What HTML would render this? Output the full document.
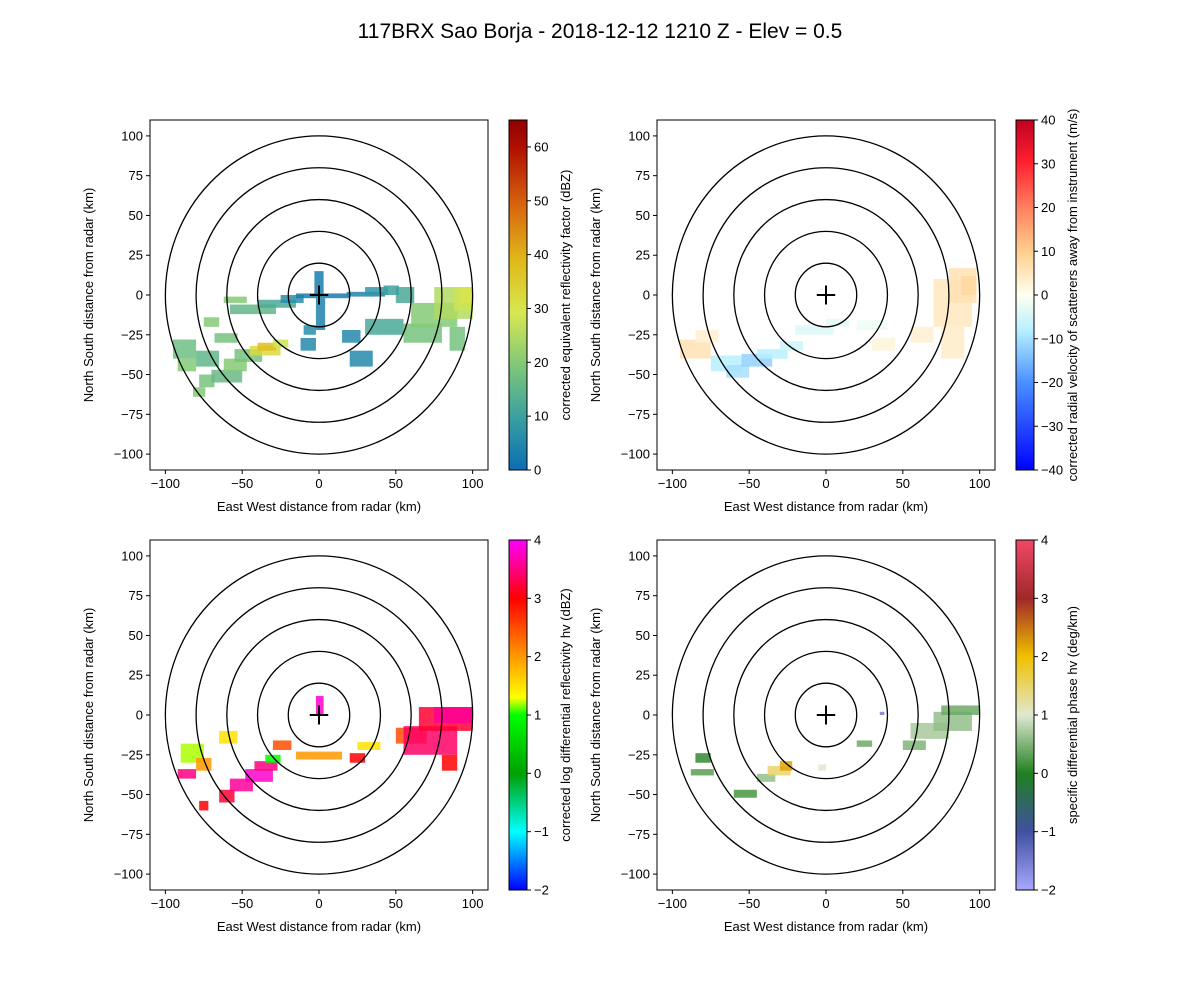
<!DOCTYPE html>
<html><head><meta charset="utf-8"><style>
body{margin:0;background:#fff;}
svg{font-family:"Liberation Sans","DejaVu Sans",sans-serif;}
</style></head><body>
<svg id="fig" width="1200" height="1000" viewBox="0 0 1200 1000">
<text x="600" y="38" font-size="21" text-anchor="middle">117BRX Sao Borja - 2018-12-12 1210 Z -  Elev = 0.5</text>
</svg>
<script>
// Echo patches: [x_km, y_km, w_km, h_km, value]
const reflPatches=[[-95,-40,15,12,17],[-92,-48,12,8,20],[-80,-45,15,10,15],[-78,-58,10,8,18],[-82,-64,8,6,20],[-70,-55,20,8,16],[-62,-48,15,8,20],[-55,-42,18,8,18],[-45,-38,20,6,32],[-40,-35,12,5,38],[-30,-33,10,5,28],[-68,-30,15,6,18],[-75,-20,10,6,20],[-58,-12,30,6,15],[-40,-8,25,5,12],[-62,-5,15,4,20],[-25,-5,15,5,6],[-15,-2,35,3,3],[-3,0,6,15,3],[18,-1,25,3,4],[30,0,15,5,8],[-2,-22,6,20,4],[15,-30,12,8,5],[-12,-35,10,8,5],[20,-45,15,10,5],[30,-25,25,10,12],[55,-30,25,12,18],[60,-20,30,15,20],[75,-15,25,20,25],[88,-10,12,15,28],[92,-5,8,10,30],[85,-35,10,15,18],[50,-5,12,10,12],[-10,-25,8,6,6],[42,0,10,6,10]];
const velPatches=[[-95,-40,20,12,6],[-85,-30,15,8,3],[-75,-48,20,10,-8],[-65,-52,15,8,-10],[-55,-45,20,8,-12],[-45,-40,20,6,-8],[-30,-35,15,6,-6],[-20,-25,25,6,-4],[0,-20,15,5,-3],[20,-22,20,6,-2],[30,-35,15,8,2],[55,-30,15,10,3],[70,-20,25,30,5],[75,-40,15,20,4],[80,-5,18,22,6],[88,0,10,12,8]];
const zdrPatches=[[-90,-30,15,12,1.2],[-92,-40,12,6,3.5],[-80,-35,10,8,2],[-78,-60,6,6,3],[-65,-55,10,8,3.2],[-58,-48,15,8,3.6],[-48,-42,18,8,3.8],[-42,-35,15,6,3.5],[-35,-30,10,5,1],[-65,-18,12,8,1.5],[-30,-22,12,6,2.5],[-2,0,5,12,3.8],[-15,-28,30,5,2],[20,-30,10,6,3],[25,-22,15,5,1.5],[50,-18,20,10,2.5],[55,-25,35,18,3.4],[65,-10,35,15,3.2],[75,-5,25,10,3.6],[80,-35,10,10,3]];
const kdpPatches=[[-85,-30,10,6,0.1],[-88,-38,15,4,0.3],[-60,-52,15,5,0.2],[-45,-42,12,5,0.6],[-38,-38,15,6,1.5],[-30,-35,8,6,2.2],[-5,-35,5,4,1],[20,-20,10,4,0.4],[50,-22,15,6,0.5],[55,-15,25,10,0.7],[70,-10,25,12,0.6],[75,0,25,6,0.4],[35,0,3,2,-1.5]];
const yTicks=[-100,-75,-50,-25,0,25,50,75,100];
const xTicks=[-100,-50,0,50,100];
const rings=[20,40,60,80,100];
const cbTicks=[[0,10,20,30,40,50,60],[-40,-30,-20,-10,0,10,20,30,40],[-2,-1,0,1,2,3,4],[-2,-1,0,1,2,3,4]];
const cbRange=[[0,65],[-40,40],[-2,4],[-2,4]];
const cmaps=[
 [[0,'#0a6eb4'],[0.15,'#3aa0a0'],[0.3,'#80c878'],[0.45,'#d8e850'],[0.6,'#e0b818'],[0.75,'#d86810'],[0.92,'#b01000'],[1,'#900000']],
 [[0,'#0000ff'],[0.25,'#4a90ff'],[0.4,'#b8f0ff'],[0.5,'#fffff0'],[0.62,'#ffd090'],[0.75,'#ff8060'],[0.88,'#ff2030'],[1,'#c00020']],
 [[0,'#0000ff'],[0.167,'#00ffff'],[0.333,'#00a000'],[0.5,'#00ff00'],[0.55,'#ffff00'],[0.667,'#ff9900'],[0.833,'#ff0000'],[1,'#ff00ff']],
 [[0,'#a8a8ff'],[0.167,'#4050a0'],[0.333,'#208020'],[0.5,'#e0e8d0'],[0.667,'#f0c000'],[0.833,'#a02828'],[1,'#f04868']]];
const cbLabels=['corrected equivalent reflectivity factor (dBZ)','corrected radial velocity of scatterers away from instrument (m/s)','corrected log differential reflectivity hv (dBZ)','specific differential phase hv (deg/km)'];
const allPatches=[reflPatches,velPatches,zdrPatches,kdpPatches];
const NS='http://www.w3.org/2000/svg';
const svg=document.getElementById('fig');
function mk(tag,attrs,parent){const e=document.createElementNS(NS,tag);for(const k in attrs)e.setAttribute(k,attrs[k]);(parent||svg).appendChild(e);return e;}
function hex(c){return [1,3,5].map(i=>parseInt(c.substr(i,2),16));}
function cm(m,t){t=Math.max(0,Math.min(1,t));for(let i=1;i<m.length;i++){if(t<=m[i][0]){const a=m[i-1],b=m[i];const f=(t-a[0])/(b[0]-a[0]||1);const A=hex(a[1]),B=hex(b[1]);return 'rgb('+A.map((v,j)=>Math.round(v+(B[j]-v)*f)).join(',')+')';}}return m[m.length-1][1];}
const panels=[{x0:150,y0:120},{x0:657,y0:120},{x0:150,y0:540},{x0:657,y0:540}];
panels.forEach((p,pi)=>{
 const W=338,H=350;
 const sx=v=>p.x0+(v+110)/220*W, sy=v=>p.y0+(110-v)/220*H;
 const g=mk('g',{});
 
 
 const rng=cbRange[pi];
 allPatches[pi].forEach(d=>{
  const r=mk('rect',{x:sx(d[0]),y:sy(d[1]+d[3]),width:d[2]/220*W,height:d[3]/220*H,fill:cm(cmaps[pi],(d[4]-rng[0])/(rng[1]-rng[0])),opacity:0.85},g);
  
  
 });
 rings.forEach(rr=>{const e=mk('ellipse',{cx:sx(0),cy:sy(0),rx:rr/220*W,ry:rr/220*H,fill:'none',stroke:'#000','stroke-width':1.3},g);
  });
 mk('path',{d:`M${sx(-6)} ${sy(0)}H${sx(6)}M${sx(0)} ${sy(6)}V${sy(-6)}`,stroke:'#000','stroke-width':2},g);
 const fr=mk('rect',{x:p.x0,y:p.y0,width:W,height:H,fill:'none',stroke:'#000','stroke-width':1},g);
 
 xTicks.forEach(t=>{mk('line',{x1:sx(t),x2:sx(t),y1:p.y0+H,y2:p.y0+H+4,stroke:'#000'},g);
  const tx=mk('text',{x:sx(t),y:p.y0+H+18,'font-size':13,'text-anchor':'middle'},g);tx.textContent=t<0?'\u2212'+(-t):t;
  });
 yTicks.forEach(t=>{mk('line',{x1:p.x0-4,x2:p.x0,y1:sy(t),y2:sy(t),stroke:'#000'},g);
  const tx=mk('text',{x:p.x0-7,y:sy(t)+4.5,'font-size':13,'text-anchor':'end'},g);tx.textContent=t<0?'\u2212'+(-t):t;
  });
 const xl=mk('text',{x:p.x0+W/2,y:p.y0+H+41,'font-size':13,'text-anchor':'middle'},g);xl.textContent='East West distance from radar (km)';
 
 const yl=mk('text',{x:0,y:0,'font-size':13,'text-anchor':'middle',transform:`translate(${p.x0-57},${p.y0+H/2}) rotate(-90)`},g);yl.textContent='North South distance from radar (km)';
 
 const cx=p.x0+359,cw=18;
 const gid='cg'+pi;const defs=mk('defs',{},g);const lg=mk('linearGradient',{id:gid,x1:0,y1:1,x2:0,y2:0},defs);
 cmaps[pi].forEach(s=>mk('stop',{offset:s[0],'stop-color':s[1]},lg));
 const cb=mk('rect',{x:cx,y:p.y0,width:cw,height:H,fill:`url(#${gid})`,stroke:'#000','stroke-width':1},g);
 
 const cy=v=>p.y0+H-(v-rng[0])/(rng[1]-rng[0])*H;
 cbTicks[pi].forEach(t=>{mk('line',{x1:cx+cw,x2:cx+cw+4,y1:cy(t),y2:cy(t),stroke:'#000'},g);
  const tx=mk('text',{x:cx+cw+7,y:cy(t)+4.5,'font-size':13},g);tx.textContent=t<0?'\u2212'+(-t):t;
  });
 const cl=mk('text',{x:0,y:0,'font-size':13,'text-anchor':'middle',transform:`translate(${cx+cw+43},${p.y0+H/2}) rotate(-90)`},g);cl.textContent=cbLabels[pi];
 
});
</script>
</body></html>
